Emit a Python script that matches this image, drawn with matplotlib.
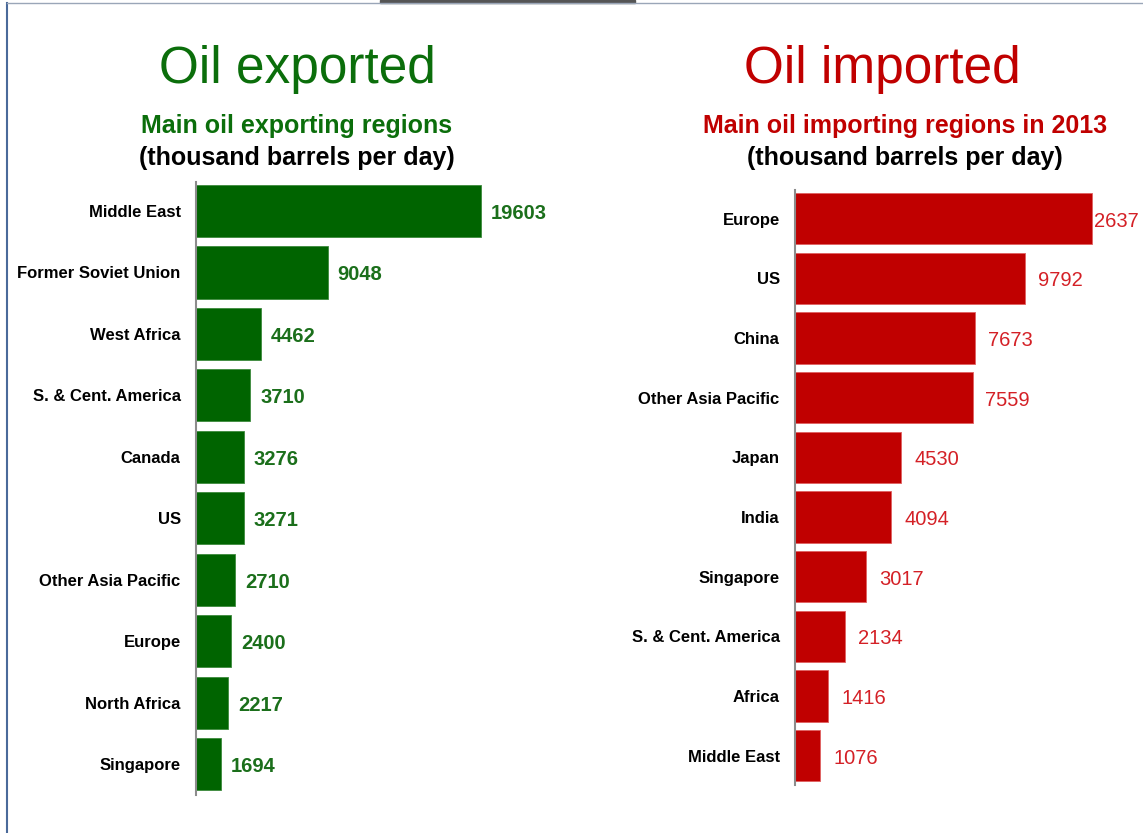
import matplotlib.pyplot as plt
from matplotlib.lines import Line2D
from matplotlib.patches import Rectangle

plt.rcParams['font.family'] = ['Liberation Sans', 'DejaVu Sans']

# exporters (thousand barrels per day)
exp_regions = ['Middle East', 'Former Soviet Union', 'West Africa', 'S. & Cent. America',
               'Canada', 'US', 'Other Asia Pacific', 'Europe', 'North Africa', 'Singapore']
exp_values = [19603, 9048, 4462, 3710, 3276, 3271, 2710, 2400, 2217, 1694]

# importers in 2013 (thousand barrels per day)
imp_regions = ['Europe', 'US', 'China', 'Other Asia Pacific', 'Japan', 'India',
               'Singapore', 'S. & Cent. America', 'Africa', 'Middle East']
imp_values = [12637, 9792, 7673, 7559, 4530, 4094, 3017, 2134, 1416, 1076]
# label text as printed (first one is cut off in the source)
imp_labels = ['2637', '9792', '7673', '7559', '4530', '4094', '3017', '2134', '1416', '1076']

green = '#006400'
green_txt = '#1b6f1b'
red = '#c00000'
red_txt = '#d42026'

fig = plt.figure(figsize=(11.43, 8.33), dpi=100)

# thin frame lines and the cut-off tab at the top
fig.add_artist(Line2D([7/1143, 7/1143], [0, 1 - 3/833], color='#4a6a9a', lw=1.5))
fig.add_artist(Line2D([7/1143, 1], [1 - 3/833, 1 - 3/833], color='#9aa6b8', lw=1))
fig.add_artist(Rectangle((380/1143, 1 - 3/833), 255/1143, 3/833, color='#555555'))

# left panel
ax1 = fig.add_axes([196/1143, 38/833, 364/1143, 613/833])
pos1 = list(range(len(exp_regions)))
ax1.barh(pos1, exp_values, height=0.85, color=green, edgecolor='#3d8a3d', linewidth=0.6)
for p, v in zip(pos1, exp_values):
    ax1.text(v + 700, p + 0.04, str(v), va='center', ha='left', color=green_txt,
             fontsize=14.5, fontweight='bold')
ax1.set_ylim(9.5, -0.47)
ax1.set_xlim(0, 364 / 0.01454)
ax1.set_yticks(pos1)
ax1.set_yticklabels(exp_regions, fontsize=12, fontweight='bold')

# right panel
ax2 = fig.add_axes([795/1143, 48/833, 348/1143, 595/833])
pos2 = list(range(len(imp_regions)))
ax2.barh(pos2, imp_values, height=0.86, color=red, edgecolor='#e06060', linewidth=0.6)
for p, v, lab in zip(pos2, imp_values, imp_labels):
    off = 100 if v > 12000 else 550
    ax2.text(v + off, p + 0.04, lab, va='center', ha='left', color=red_txt, fontsize=14.5)
ax2.set_ylim(9.49, -0.48)
ax2.set_xlim(0, 348 / 0.02349)
ax2.set_yticks(pos2)
ax2.set_yticklabels(imp_regions, fontsize=12, fontweight='bold')

for ax in (ax1, ax2):
    for s in ['top', 'right', 'bottom']:
        ax.spines[s].set_visible(False)
    ax.spines['left'].set_color('#8c8c8c')
    ax.spines['left'].set_linewidth(1.5)
    ax.tick_params(axis='y', length=0, pad=11)
    ax.set_xticks([])
    ax.patch.set_alpha(0)

# titles
fig.text(297/1143, 1 - 70/833, 'Oil exported', ha='center', va='center',
         fontsize=37, color='#0b6e0b')
fig.text(882/1143, 1 - 70/833, 'Oil imported', ha='center', va='center',
         fontsize=37, color='#c00000')
fig.text(297/1143, 1 - 126/833, 'Main oil exporting regions', ha='center', va='center',
         fontsize=18, fontweight='bold', color='#0b6e0b')
fig.text(297/1143, 1 - 158/833, '(thousand barrels per day)', ha='center', va='center',
         fontsize=18, fontweight='bold', color='black')
fig.text(905/1143, 1 - 126/833, 'Main oil importing regions in 2013', ha='center', va='center',
         fontsize=18, fontweight='bold', color='#c00000')
fig.text(905/1143, 1 - 158/833, '(thousand barrels per day)', ha='center', va='center',
         fontsize=18, fontweight='bold', color='black')

fig.savefig('out.png', dpi=100)
